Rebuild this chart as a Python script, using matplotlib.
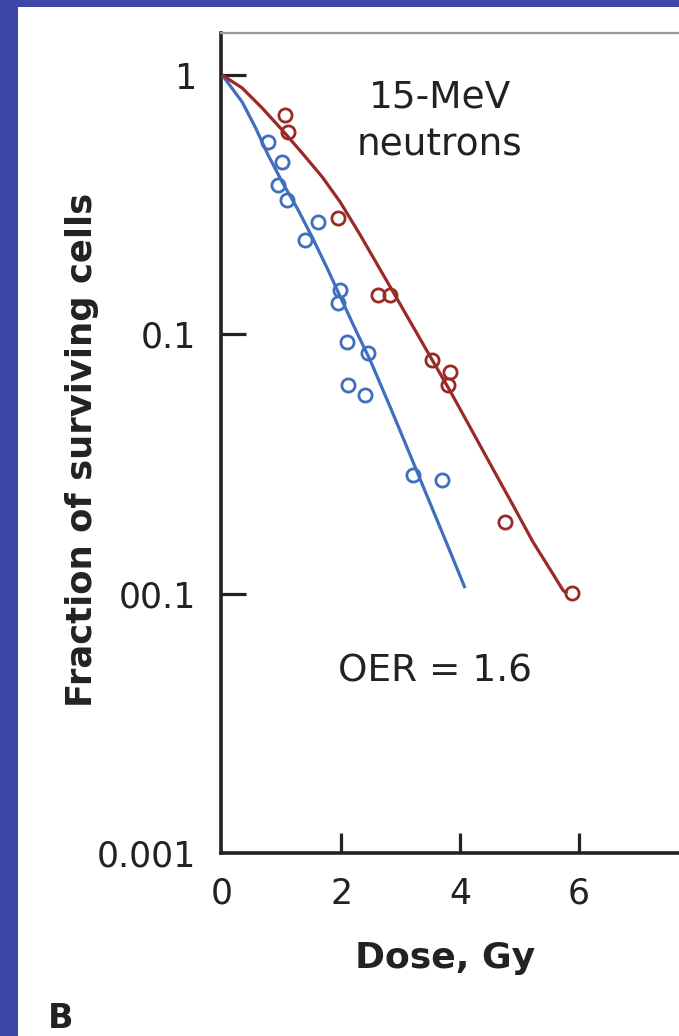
import matplotlib
matplotlib.use("Agg")
import matplotlib.pyplot as plt
from matplotlib.patches import Rectangle

# ---- data ----
dose_ticks = [0, 2, 4, 6]
dose_tick_labels = ["0", "2", "4", "6"]
surv_ticks = [0.001, 0.01, 0.1, 1]
surv_tick_labels = ["0.001", "00.1", "0.1", "1"]

# aerated (blue) data points
blue_dose = [0.77, 1.01, 0.94, 1.09, 1.40, 1.61, 1.98, 1.95, 2.10, 2.45, 2.12, 2.40, 3.21, 3.70]
blue_surv = [0.552, 0.462, 0.377, 0.330, 0.231, 0.271, 0.148, 0.132, 0.0934, 0.0847, 0.0637, 0.0583, 0.0287, 0.0274]

# hypoxic (red) data points
red_dose = [1.06, 1.11, 1.95, 2.62, 2.82, 3.53, 3.83, 3.80, 4.76, 5.88]
red_surv = [0.701, 0.603, 0.281, 0.142, 0.142, 0.0796, 0.0716, 0.0637, 0.0189, 0.01005]

# fitted curves
blue_fit_dose = [0.0, 0.336, 0.555, 0.773, 1.008, 1.26, 1.513, 1.78, 2.034, 2.27,
                 2.487, 2.824, 3.126, 3.445, 3.782, 4.084]
blue_fit_surv = [1.0, 0.787, 0.630, 0.491, 0.387, 0.307, 0.237, 0.177, 0.132, 0.101,
                 0.0796, 0.0525, 0.0358, 0.0238, 0.0155, 0.0105]

red_fit_dose = [0.0, 0.336, 0.672, 1.008, 1.345, 1.68, 1.983, 2.319, 2.655, 2.941,
                3.361, 3.832, 4.134, 4.555, 4.891, 5.227, 5.563, 5.731, 5.80]
red_fit_surv = [1.0, 0.891, 0.746, 0.614, 0.500, 0.405, 0.324, 0.242, 0.178, 0.137,
                0.0931, 0.0605, 0.0453, 0.0302, 0.0219, 0.0158, 0.0119, 0.0103, 0.0100]

annot_top = ["15-MeV", "neutrons"]
annot_oer = "OER = 1.6"

BLUE = "#3F6FBE"
RED = "#9A2A25"
FRAME = "#3D47A9"
INK = "#222222"

W, H = 679, 1036
fig = plt.figure(figsize=(W / 100, H / 100), dpi=100)
fig.patch.set_facecolor("white")

# blue frame strips
fig.patches.append(Rectangle((0, 0), 18 / W, 1, transform=fig.transFigure,
                             facecolor=FRAME, edgecolor="none", zorder=0))
fig.patches.append(Rectangle((0, 1 - 7 / H), 1, 7 / H, transform=fig.transFigure,
                             facecolor=FRAME, edgecolor="none", zorder=0))

ax = fig.add_axes([221 / W, (H - 853) / H, (W - 221) / W, (853 - 33) / H])
ax.set_yscale("log")
ax.set_xlim(-0.02, (679 - 222) / 59.5)
ax.set_ylim(0.001, 1.452)

ax.plot(blue_fit_dose, blue_fit_surv, color=BLUE, lw=2.3, solid_capstyle="butt",
        solid_joinstyle="round", zorder=3)
ax.plot(red_fit_dose, red_fit_surv, color=RED, lw=2.3, solid_capstyle="butt",
        solid_joinstyle="round", zorder=3)
ax.plot(blue_dose, blue_surv, "o", ms=9.5, mfc="none", mec=BLUE, mew=2.0, zorder=4)
ax.plot(red_dose, red_surv, "o", ms=9.5, mfc="none", mec=RED, mew=2.0, zorder=4)

ax.set_xticks(dose_ticks)
ax.set_xticklabels(dose_tick_labels)
ax.set_yticks(surv_ticks)
ax.set_yticklabels(surv_tick_labels)
ax.yaxis.set_minor_locator(matplotlib.ticker.NullLocator())
ax.xaxis.set_minor_locator(matplotlib.ticker.NullLocator())

ax.tick_params(axis="x", direction="in", length=14.5, width=2.3, pad=17,
               labelsize=25, colors=INK)
ax.tick_params(axis="y", direction="in", length=18, width=2.3, pad=18,
               labelsize=25, colors=INK)
ax.xaxis.get_major_ticks()[0].tick1line.set_visible(False)
ax.yaxis.get_major_ticks()[0].tick1line.set_visible(False)

for side in ("left", "bottom"):
    ax.spines[side].set_linewidth(2.6)
    ax.spines[side].set_color(INK)
ax.spines["top"].set_color("#999999")
ax.spines["top"].set_linewidth(1.6)
ax.spines["right"].set_visible(False)

ax.set_xlabel("Dose, Gy", fontsize=26, fontweight="bold", color=INK)
ax.set_ylabel("Fraction of surviving cells", fontsize=25.5, fontweight="bold", color=INK)
ax.xaxis.set_label_coords((445 - 221) / (W - 221), -(958 - 853) / (853 - 33))
ax.yaxis.set_label_coords(-(221 - 82) / (W - 221), (853 - 450) / (853 - 33))
ax.xaxis.label.set_va("center")
ax.yaxis.label.set_va("center")

ax.text(3.66, 0.822, annot_top[0], fontsize=27, ha="center", va="center", color=INK)
ax.text(3.66, 0.537, annot_top[1], fontsize=27, ha="center", va="center", color=INK)
ax.text(3.58, 0.00499, annot_oer, fontsize=27, ha="center", va="center", color=INK)

fig.text(48 / W, 1 - 1018 / H, "B", fontsize=24, fontweight="bold", ha="left",
         va="center", color=INK)

fig.savefig("out.png", dpi=100)
